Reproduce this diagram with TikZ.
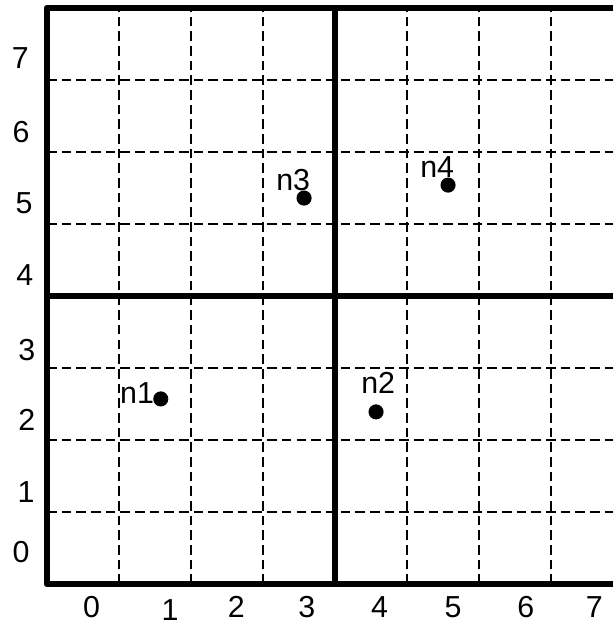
\documentclass[tikz,border=0pt]{standalone}
\usepackage{fontspec}
\setmainfont{Liberation Sans}
\begin{document}
\begin{tikzpicture}[line join=round,font=\fontsize{12}{14}\selectfont,
	gridline/.style={dash pattern=on 3.8pt off 2pt,line width=.85pt},
	border/.style={line width=2.7pt},
	pt/.style={circle,fill,inner sep=0pt,minimum size=2.1mm}]
	\useasboundingbox (-0.653,-0.542) rectangle (7.861,8.111);
	\clip (-0.653,-0.542) rectangle (7.861,8.111);
	%========================
	\draw[gridline] (0,0) grid (8,8);
	\draw[border] (0,0) rectangle (8,8);
	\draw[border] (4,0)--(4,8);
	\draw[border] (0,4)--(8,4);
	%========================
	\node (y0) at (-0.36,0.45) {0};
	\node (y1) at (-0.29,1.28) {1};
	\node (y2) at (-0.28,2.28) {2};
	\node (y3) at (-0.28,3.25) {3};
	\node (y4) at (-0.31,4.29) {4};
	\node (y5) at (-0.32,5.29) {5};
	\node (y6) at (-0.36,6.28) {6};
	\node (y7) at (-0.37,7.31) {7};
	\node (x0) at (0.62,-0.32) {0};
	\node (x1) at (1.71,-0.36) {1};
	\node (x2) at (2.63,-0.32) {2};
	\node (x3) at (3.61,-0.32) {3};
	\node (x4) at (4.62,-0.32) {4};
	\node (x5) at (5.64,-0.32) {5};
	\node (x6) at (6.65,-0.32) {6};
	\node (x7) at (7.60,-0.32) {7};
	%========================
	\node[pt] (n1) at (1.58,2.57) {};
	\node[pt] (n2) at (4.57,2.39) {};
	\node[pt] (n3) at (3.57,5.36) {};
	\node[pt] (n4) at (5.57,5.54) {};
	\node (n1l) at (1.25,2.65) {n1};
	\node (n2l) at (4.60,2.79) {n2};
	\node (n3l) at (3.42,5.61) {n3};
	\node (n4l) at (5.42,5.79) {n4};
	%========================
\end{tikzpicture}
\end{document}
